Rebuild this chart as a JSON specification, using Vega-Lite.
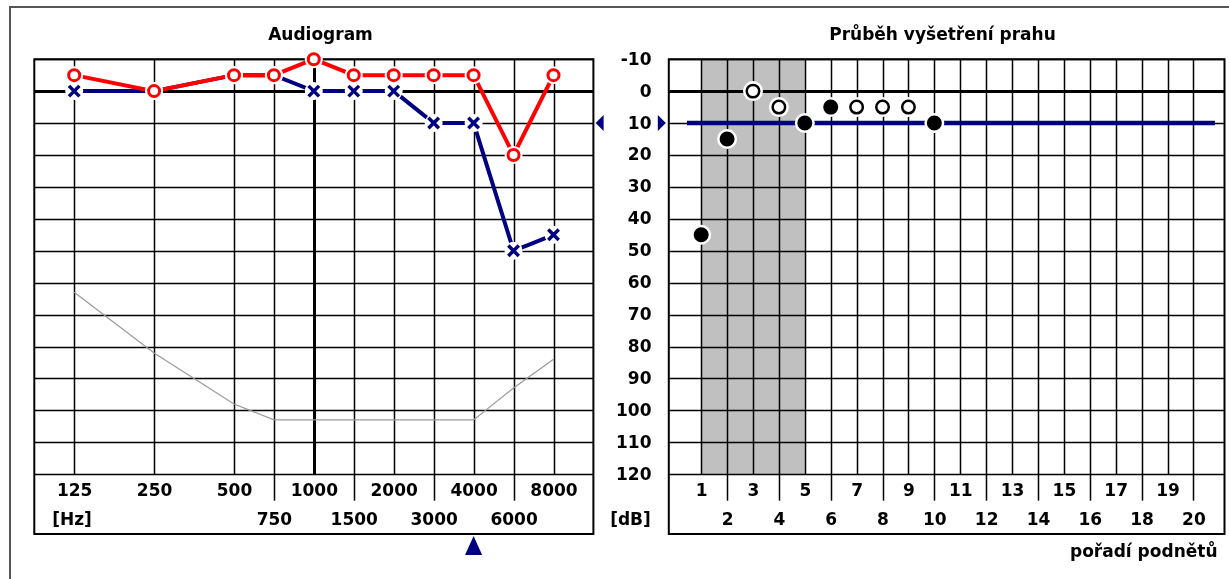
{
  "$schema": "https://vega.github.io/schema/vega-lite/v6.json",
  "width": 1225,
  "height": 578,
  "padding": {"left": 10, "top": 7, "right": -6, "bottom": -6},
  "autosize": {"type": "none"},
  "background": "white",
  "config": {
    "view": {"stroke": "#555555", "strokeWidth": 2},
    "axis": {
      "labelFont": "DejaVu Sans", "labelFontSize": 17, "labelFontWeight": "bold", "labelColor": "black",
      "titleFont": "DejaVu Sans", "titleFontSize": 17, "titleFontWeight": "bold", "titleColor": "black",
      "gridColor": "black", "gridOpacity": 1, "tickColor": "black", "tickOpacity": 1,
      "labelFlush": false, "labelOverlap": false, "labelBound": false, "labelLimit": 0, "domain": false
    }
  },
  "datasets": {
    "frameLeft": [{"freq": 88.39, "freq2": 11314, "db": -10, "db2": 138.73}],
    "thresholds": [
      {"freq": 125, "ear": "left", "db": 0}, {"freq": 250, "ear": "left", "db": 0}, {"freq": 500, "ear": "left", "db": -5},
      {"freq": 750, "ear": "left", "db": -5}, {"freq": 1000, "ear": "left", "db": 0}, {"freq": 1500, "ear": "left", "db": 0},
      {"freq": 2000, "ear": "left", "db": 0}, {"freq": 3000, "ear": "left", "db": 10}, {"freq": 4000, "ear": "left", "db": 10},
      {"freq": 6000, "ear": "left", "db": 50}, {"freq": 8000, "ear": "left", "db": 45},
      {"freq": 125, "ear": "right", "db": -5}, {"freq": 250, "ear": "right", "db": 0}, {"freq": 500, "ear": "right", "db": -5},
      {"freq": 750, "ear": "right", "db": -5}, {"freq": 1000, "ear": "right", "db": -10}, {"freq": 1500, "ear": "right", "db": -5},
      {"freq": 2000, "ear": "right", "db": -5}, {"freq": 3000, "ear": "right", "db": -5}, {"freq": 4000, "ear": "right", "db": -5},
      {"freq": 6000, "ear": "right", "db": 20}, {"freq": 8000, "ear": "right", "db": -5}
    ],
    "limit": [
      {"freq": 125, "db": 63}, {"freq": 250, "db": 82}, {"freq": 500, "db": 98}, {"freq": 750, "db": 103},
      {"freq": 1000, "db": 103}, {"freq": 1500, "db": 103}, {"freq": 2000, "db": 103}, {"freq": 3000, "db": 103},
      {"freq": 4000, "db": 103}, {"freq": 6000, "db": 93}, {"freq": 8000, "db": 84}
    ],
    "currentFreq": [{"freq": 4000, "db": 142.3}],
    "frameRight": [{"n": -0.25, "n2": 21.2, "db": -10, "db2": 138.73}],
    "band": [{"n": 1, "n2": 5, "db": -10, "db2": 120}],
    "level": [{"n": 0.45, "db": 10}, {"n": 20.83, "db": 10}],
    "levelMarks": [{"n": -2.92, "db": 10, "dir": "left"}, {"n": -0.52, "db": 10, "dir": "right"}],
    "stimuli": [
      {"n": 1, "db": 45, "response": "heard"}, {"n": 2, "db": 15, "response": "heard"},
      {"n": 3, "db": 0, "response": "not heard"}, {"n": 4, "db": 5, "response": "not heard"},
      {"n": 5, "db": 10, "response": "heard"}, {"n": 6, "db": 5, "response": "heard"},
      {"n": 7, "db": 5, "response": "not heard"}, {"n": 8, "db": 5, "response": "not heard"},
      {"n": 9, "db": 5, "response": "not heard"}, {"n": 10, "db": 10, "response": "heard"}
    ]
  },
  "layer": [
    {
      "resolve": {"axis": {"x": "independent", "y": "independent"}},
      "layer": [
        {
          "data": {"name": "frameLeft"},
          "mark": {"type": "rect", "fill": "transparent", "stroke": "black", "strokeWidth": 2},
          "encoding": {
            "x": {"field": "freq", "type": "quantitative",
              "scale": {"type": "linear", "domain": [88.39, 125, 250, 500, 1000, 2000, 4000, 8000, 11314], "range": [24.3, 64.2, 144.1, 224, 303.8, 383.7, 463.6, 543.5, 583.4], "nice": false, "zero": false},
              "axis": {"orient": "top", "values": [125, 250, 500, 750, 1000, 1500, 2000, 3000, 4000, 6000, 8000], "grid": true,
                "gridWidth": {"condition": {"test": "datum.value === 1000", "value": 3}, "value": 1.5},
                "labels": false, "ticks": false, "domain": false,
                "title": "Audiogram", "titleX": 310, "titleY": 32, "titleAlign": "center", "titleBaseline": "alphabetic", "titleAngle": 0}},
            "x2": {"field": "freq2"},
            "y": {"field": "db", "type": "quantitative",
              "scale": {"domain": [-10, 120], "range": [52.2, 467.2], "nice": false, "zero": false},
              "axis": {"orient": "left", "values": [-10, 0, 10, 20, 30, 40, 50, 60, 70, 80, 90, 100, 110, 120], "grid": true,
                "gridWidth": {"condition": {"test": "datum.value === 0", "value": 3}, "value": 1.5},
                "labels": false, "ticks": false, "domain": false, "title": null}},
            "y2": {"field": "db2"}
          }
        },
        {
          "data": {"name": "limit"},
          "mark": {"type": "line", "color": "#9a9a9a", "strokeWidth": 1.2},
          "encoding": {
            "x": {"field": "freq", "type": "quantitative",
              "scale": {"type": "linear", "domain": [88.39, 125, 250, 500, 1000, 2000, 4000, 8000, 11314], "range": [24.3, 64.2, 144.1, 224, 303.8, 383.7, 463.6, 543.5, 583.4], "nice": false, "zero": false},
              "axis": {"orient": "bottom", "offset": -110.8, "values": [125, 250, 500, 1000, 2000, 4000, 8000], "labelExpr": "'' + datum.value",
                "grid": false, "ticks": false, "tickSize": 0, "labelPadding": 16.6, "labelBaseline": "middle", "labelAlign": "center", "title": null}},
            "y": {"field": "db", "type": "quantitative",
              "scale": {"domain": [-10, 120], "range": [52.2, 467.2], "nice": false, "zero": false}, "axis": null}
          }
        },
        {
          "data": {"name": "thresholds"},
          "transform": [{"filter": "datum.ear === 'left'"}],
          "mark": {"type": "line", "color": "#000080", "strokeWidth": 4},
          "encoding": {
            "x": {"field": "freq", "type": "quantitative",
              "scale": {"type": "linear", "domain": [88.39, 125, 250, 500, 1000, 2000, 4000, 8000, 11314], "range": [24.3, 64.2, 144.1, 224, 303.8, 383.7, 463.6, 543.5, 583.4], "nice": false, "zero": false},
              "axis": {"orient": "bottom", "offset": -110.8, "values": [750, 1500, 3000, 6000], "labelExpr": "'' + datum.value",
                "grid": false, "ticks": true, "tickSize": 26, "tickWidth": 1.5, "labelPadding": 18.8, "labelBaseline": "middle", "labelAlign": "center",
                "title": "[Hz]", "titleX": 41.7, "titleY": 44.8, "titleAlign": "left", "titleBaseline": "middle", "titleAngle": 0}},
            "y": {"field": "db", "type": "quantitative",
              "scale": {"domain": [-10, 120], "range": [52.2, 467.2], "nice": false, "zero": false}, "axis": null}
          }
        },
        {
          "data": {"name": "thresholds"},
          "transform": [{"filter": "datum.ear === 'right'"}],
          "mark": {"type": "line", "color": "#ff0000", "strokeWidth": 4},
          "encoding": {
            "x": {"field": "freq", "type": "quantitative",
              "scale": {"type": "linear", "domain": [88.39, 125, 250, 500, 1000, 2000, 4000, 8000, 11314], "range": [24.3, 64.2, 144.1, 224, 303.8, 383.7, 463.6, 543.5, 583.4], "nice": false, "zero": false}, "axis": null},
            "y": {"field": "db", "type": "quantitative",
              "scale": {"domain": [-10, 120], "range": [52.2, 467.2], "nice": false, "zero": false}, "axis": null}
          }
        },
        {
          "data": {"name": "thresholds"},
          "transform": [{"filter": "datum.ear === 'left'"}],
          "mark": {"type": "point", "shape": "circle", "filled": true, "fill": "white", "size": 324, "opacity": 1, "strokeWidth": 0},
          "encoding": {
            "x": {"field": "freq", "type": "quantitative",
              "scale": {"type": "linear", "domain": [88.39, 125, 250, 500, 1000, 2000, 4000, 8000, 11314], "range": [24.3, 64.2, 144.1, 224, 303.8, 383.7, 463.6, 543.5, 583.4], "nice": false, "zero": false}, "axis": null},
            "y": {"field": "db", "type": "quantitative",
              "scale": {"domain": [-10, 120], "range": [52.2, 467.2], "nice": false, "zero": false}, "axis": null}
          }
        },
        {
          "data": {"name": "thresholds"},
          "transform": [{"filter": "datum.ear === 'left'"}],
          "mark": {"type": "point", "shape": "M-1,-1L1,1M-1,1L1,-1", "filled": false, "stroke": "#000080", "strokeWidth": 3.5, "size": 110, "opacity": 1},
          "encoding": {
            "x": {"field": "freq", "type": "quantitative",
              "scale": {"type": "linear", "domain": [88.39, 125, 250, 500, 1000, 2000, 4000, 8000, 11314], "range": [24.3, 64.2, 144.1, 224, 303.8, 383.7, 463.6, 543.5, 583.4], "nice": false, "zero": false}, "axis": null},
            "y": {"field": "db", "type": "quantitative",
              "scale": {"domain": [-10, 120], "range": [52.2, 467.2], "nice": false, "zero": false}, "axis": null}
          }
        },
        {
          "data": {"name": "thresholds"},
          "transform": [{"filter": "datum.ear === 'right'"}],
          "mark": {"type": "point", "shape": "circle", "filled": true, "fill": "white", "size": 324, "opacity": 1, "strokeWidth": 0},
          "encoding": {
            "x": {"field": "freq", "type": "quantitative",
              "scale": {"type": "linear", "domain": [88.39, 125, 250, 500, 1000, 2000, 4000, 8000, 11314], "range": [24.3, 64.2, 144.1, 224, 303.8, 383.7, 463.6, 543.5, 583.4], "nice": false, "zero": false}, "axis": null},
            "y": {"field": "db", "type": "quantitative",
              "scale": {"domain": [-10, 120], "range": [52.2, 467.2], "nice": false, "zero": false}, "axis": null}
          }
        },
        {
          "data": {"name": "thresholds"},
          "transform": [{"filter": "datum.ear === 'right'"}],
          "mark": {"type": "point", "shape": "circle", "filled": true, "fill": "white", "stroke": "#ff0000", "strokeWidth": 3, "size": 121, "opacity": 1},
          "encoding": {
            "x": {"field": "freq", "type": "quantitative",
              "scale": {"type": "linear", "domain": [88.39, 125, 250, 500, 1000, 2000, 4000, 8000, 11314], "range": [24.3, 64.2, 144.1, 224, 303.8, 383.7, 463.6, 543.5, 583.4], "nice": false, "zero": false}, "axis": null},
            "y": {"field": "db", "type": "quantitative",
              "scale": {"domain": [-10, 120], "range": [52.2, 467.2], "nice": false, "zero": false}, "axis": null}
          }
        },
        {
          "data": {"name": "currentFreq"},
          "mark": {"type": "point", "shape": "M0,-1L0.9,1L-0.9,1Z", "filled": true, "fill": "#000080", "strokeWidth": 0, "size": 361, "opacity": 1},
          "encoding": {
            "x": {"field": "freq", "type": "quantitative",
              "scale": {"type": "linear", "domain": [88.39, 125, 250, 500, 1000, 2000, 4000, 8000, 11314], "range": [24.3, 64.2, 144.1, 224, 303.8, 383.7, 463.6, 543.5, 583.4], "nice": false, "zero": false}, "axis": null},
            "y": {"field": "db", "type": "quantitative",
              "scale": {"domain": [-10, 120], "range": [52.2, 467.2], "nice": false, "zero": false}, "axis": null}
          }
        }
      ]
    },
    {
      "resolve": {"axis": {"x": "independent", "y": "independent"}},
      "layer": [
        {
          "data": {"name": "band"},
          "mark": {"type": "rect", "fill": "#c0c0c0", "blend": "multiply"},
          "encoding": {
            "x": {"field": "n", "type": "quantitative",
              "scale": {"domain": [-0.25, 21.2], "range": [658.8, 1214.5], "nice": false, "zero": false},
              "axis": {"orient": "top", "values": [1, 2, 3, 4, 5, 6, 7, 8, 9, 10, 11, 12, 13, 14, 15, 16, 17, 18, 19, 20], "grid": true, "gridWidth": 1.5,
                "labels": false, "ticks": false, "domain": false,
                "title": "Průběh vyšetření prahu", "titleX": 932, "titleY": 32, "titleAlign": "center", "titleBaseline": "alphabetic", "titleAngle": 0}},
            "x2": {"field": "n2"},
            "y": {"field": "db", "type": "quantitative",
              "scale": {"domain": [-10, 120], "range": [52.2, 467.2], "nice": false, "zero": false},
              "axis": {"orient": "left", "offset": -658.8, "values": [-10, 0, 10, 20, 30, 40, 50, 60, 70, 80, 90, 100, 110, 120], "grid": true,
                "gridWidth": {"condition": {"test": "datum.value === 0", "value": 3}, "value": 1.5},
                "labels": true, "labelExpr": "'' + datum.value", "ticks": false, "tickSize": 0, "labelPadding": 17.8, "labelAlign": "right", "labelBaseline": "middle",
                "domain": false, "title": "[dB]", "titleAngle": 0, "titleX": -38.8, "titleY": 512, "titleAlign": "center", "titleBaseline": "middle"}},
            "y2": {"field": "db2"}
          }
        },
        {
          "data": {"name": "frameRight"},
          "mark": {"type": "rect", "fill": "transparent", "stroke": "black", "strokeWidth": 2},
          "encoding": {
            "x": {"field": "n", "type": "quantitative",
              "scale": {"domain": [-0.25, 21.2], "range": [658.8, 1214.5], "nice": false, "zero": false},
              "axis": {"orient": "bottom", "offset": -110.8, "values": [1, 3, 5, 7, 9, 11, 13, 15, 17, 19], "labelExpr": "'' + datum.value",
                "grid": false, "ticks": false, "tickSize": 0, "labelPadding": 16.6, "labelBaseline": "middle", "labelAlign": "center", "title": null}},
            "x2": {"field": "n2"},
            "y": {"field": "db", "type": "quantitative",
              "scale": {"domain": [-10, 120], "range": [52.2, 467.2], "nice": false, "zero": false}, "axis": null},
            "y2": {"field": "db2"}
          }
        },
        {
          "data": {"name": "level"},
          "mark": {"type": "line", "color": "#000080", "strokeWidth": 4.5},
          "encoding": {
            "x": {"field": "n", "type": "quantitative",
              "scale": {"domain": [-0.25, 21.2], "range": [658.8, 1214.5], "nice": false, "zero": false},
              "axis": {"orient": "bottom", "offset": -110.8, "values": [2, 4, 6, 8, 10, 12, 14, 16, 18, 20], "labelExpr": "'' + datum.value",
                "grid": false, "ticks": true, "tickSize": 26, "tickWidth": 1.5, "labelPadding": 18.8, "labelBaseline": "middle", "labelAlign": "center",
                "title": "pořadí podnětů", "titleX": 1207, "titleY": 82.3, "titleAlign": "right", "titleBaseline": "alphabetic", "titleAngle": 0}},
            "y": {"field": "db", "type": "quantitative",
              "scale": {"domain": [-10, 120], "range": [52.2, 467.2], "nice": false, "zero": false}, "axis": null}
          }
        },
        {
          "data": {"name": "stimuli"},
          "mark": {"type": "point", "shape": "circle", "filled": true, "fill": "white", "size": 400, "opacity": 1, "strokeWidth": 0},
          "encoding": {
            "x": {"field": "n", "type": "quantitative",
              "scale": {"domain": [-0.25, 21.2], "range": [658.8, 1214.5], "nice": false, "zero": false}, "axis": null},
            "y": {"field": "db", "type": "quantitative",
              "scale": {"domain": [-10, 120], "range": [52.2, 467.2], "nice": false, "zero": false}, "axis": null}
          }
        },
        {
          "data": {"name": "stimuli"},
          "mark": {"type": "point", "shape": "circle", "filled": true, "stroke": "black", "strokeWidth": 2.5, "size": 156, "opacity": 1},
          "encoding": {
            "x": {"field": "n", "type": "quantitative",
              "scale": {"domain": [-0.25, 21.2], "range": [658.8, 1214.5], "nice": false, "zero": false}, "axis": null},
            "y": {"field": "db", "type": "quantitative",
              "scale": {"domain": [-10, 120], "range": [52.2, 467.2], "nice": false, "zero": false}, "axis": null},
            "fill": {"field": "response", "type": "nominal", "scale": {"domain": ["heard", "not heard"], "range": ["black", "white"]}, "legend": null}
          }
        },
        {
          "data": {"name": "levelMarks"},
          "transform": [{"filter": "datum.dir === 'left'"}],
          "mark": {"type": "point", "shape": "M0.5,-1L0.5,1L-0.5,0Z", "filled": true, "fill": "#000080", "strokeWidth": 0, "size": 256, "opacity": 1},
          "encoding": {
            "x": {"field": "n", "type": "quantitative",
              "scale": {"domain": [-0.25, 21.2], "range": [658.8, 1214.5], "nice": false, "zero": false}, "axis": null},
            "y": {"field": "db", "type": "quantitative",
              "scale": {"domain": [-10, 120], "range": [52.2, 467.2], "nice": false, "zero": false}, "axis": null}
          }
        },
        {
          "data": {"name": "levelMarks"},
          "transform": [{"filter": "datum.dir === 'right'"}],
          "mark": {"type": "point", "shape": "M-0.5,-1L-0.5,1L0.5,0Z", "filled": true, "fill": "#000080", "strokeWidth": 0, "size": 256, "opacity": 1},
          "encoding": {
            "x": {"field": "n", "type": "quantitative",
              "scale": {"domain": [-0.25, 21.2], "range": [658.8, 1214.5], "nice": false, "zero": false}, "axis": null},
            "y": {"field": "db", "type": "quantitative",
              "scale": {"domain": [-10, 120], "range": [52.2, 467.2], "nice": false, "zero": false}, "axis": null}
          }
        }
      ]
    }
  ],
  "resolve": {
    "scale": {"x": "independent", "y": "independent"},
    "axis": {"x": "independent", "y": "independent"}
  }
}
